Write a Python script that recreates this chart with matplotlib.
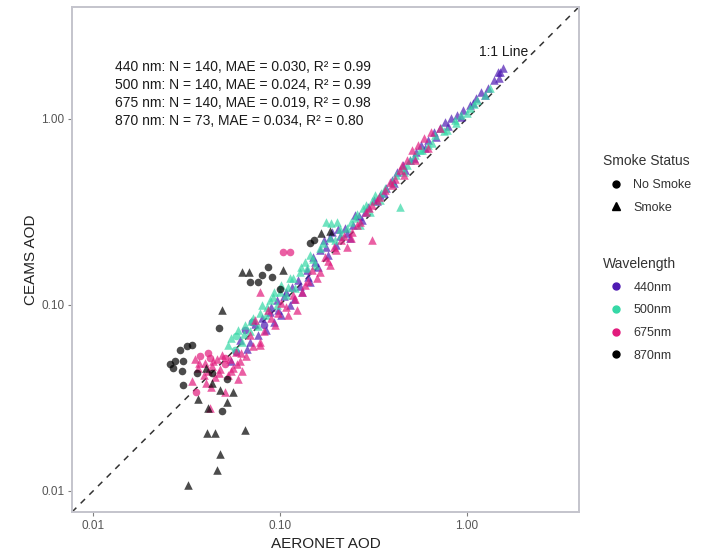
#!/usr/bin/env python3
"""
Scatter of CEAMS AOD vs AERONET AOD, by wavelength and smoke status.
"""

import matplotlib
matplotlib.use('Agg')
import matplotlib.pyplot as plt
from matplotlib.lines import Line2D

plt.rcParams['font.family'] = ['Liberation Sans', 'DejaVu Sans']

# ---- data ----
# 440 nm
x_440 = [0.058, 0.061, 0.065, 0.069, 0.071, 0.076, 0.080, 0.084, 0.088, 0.093,
         0.097, 0.102, 0.108, 0.113, 0.119, 0.125, 0.132, 0.139, 0.145, 0.154,
         0.164, 0.172, 0.181, 0.190, 0.199, 0.209, 0.223, 0.237, 0.254, 0.274,
         0.296, 0.318, 0.343, 0.370, 0.397, 0.426, 0.459, 0.496, 0.534, 0.573,
         0.620, 0.667, 0.717, 0.770, 0.830, 0.890, 0.960, 1.04, 1.12, 1.20,
         1.30, 1.40, 1.47, 1.56, 1.50, 0.055,
         0.067, 0.074, 0.082, 0.090, 0.098, 0.105, 0.116, 0.128, 0.142, 0.150,
         0.160, 0.176, 0.186, 0.205, 0.228, 0.245, 0.265, 0.285, 0.330, 0.360,
         0.410, 0.470, 0.520, 0.600, 0.690, 0.800, 0.930, 1.08, 1.25, 1.52]
y_440 = [0.056, 0.065, 0.073, 0.063, 0.081, 0.069, 0.085, 0.073, 0.092, 0.081,
         0.106, 0.088, 0.117, 0.100, 0.108, 0.136, 0.117, 0.154, 0.132, 0.170,
         0.198, 0.224, 0.186, 0.247, 0.210, 0.235, 0.260, 0.230, 0.305, 0.286,
         0.334, 0.367, 0.390, 0.425, 0.470, 0.520, 0.566, 0.602, 0.660, 0.725,
         0.771, 0.850, 0.894, 0.960, 1.01, 1.05, 1.12, 1.19, 1.30, 1.40,
         1.47, 1.62, 1.79, 1.88, 1.66, 0.050,
         0.058, 0.079, 0.078, 0.097, 0.094, 0.112, 0.125, 0.126, 0.142, 0.182,
         0.160, 0.205, 0.232, 0.255, 0.245, 0.270, 0.300, 0.315, 0.360, 0.400,
         0.450, 0.530, 0.620, 0.700, 0.800, 0.920, 1.02, 1.22, 1.35, 1.78]
smoke_440 = ("NSNSNSSSSS" "SSSSSSSSSS" "SSSSSSSSSS" "SSSSSSSSSS" "SSSSSSSSSS"
             "SSSSSS"
             "SSNSSSSSSS" "SSSSSSSSSS" "SSSSSSSSSS")

# 500 nm
x_500 = [0.053, 0.055, 0.0574, 0.060, 0.0627, 0.065, 0.069, 0.072, 0.076, 0.080,
         0.084, 0.088, 0.093, 0.097, 0.102, 0.108, 0.113, 0.120, 0.128, 0.136,
         0.145, 0.154, 0.164, 0.176, 0.189, 0.203, 0.197, 0.213, 0.228, 0.252,
         0.268, 0.290, 0.303, 0.322, 0.343, 0.364, 0.438, 0.418, 0.445, 0.48,
         0.527, 0.561, 0.62, 0.674, 0.73, 0.79, 0.863, 0.93, 1.04, 1.14,
         1.25, 1.33,
         0.058, 0.064, 0.070, 0.078, 0.085, 0.092, 0.100, 0.110, 0.118, 0.130,
         0.140, 0.150, 0.170, 0.185, 0.210, 0.240, 0.260, 0.280, 0.310, 0.350,
         0.400, 0.460, 0.500, 0.580, 0.650, 0.760, 0.880, 1.00, 1.10]
y_500 = [0.061, 0.066, 0.057, 0.073, 0.063, 0.078, 0.072, 0.085, 0.077, 0.100,
         0.088, 0.106, 0.117, 0.100, 0.128, 0.113, 0.139, 0.124, 0.150, 0.170,
         0.186, 0.164, 0.202, 0.279, 0.274, 0.279, 0.224, 0.238, 0.260, 0.293,
         0.269, 0.345, 0.316, 0.390, 0.367, 0.425, 0.336, 0.500, 0.546, 0.566,
         0.640, 0.681, 0.725, 0.820, 0.894, 0.873, 0.988, 1.05, 1.15, 1.26,
         1.35, 1.47,
         0.068, 0.070, 0.082, 0.090, 0.098, 0.110, 0.118, 0.125, 0.140, 0.160,
         0.158, 0.176, 0.215, 0.230, 0.255, 0.280, 0.310, 0.330, 0.360, 0.400,
         0.460, 0.520, 0.600, 0.680, 0.740, 0.860, 0.950, 1.08, 1.20]
smoke_500 = ("SSNSSSSSSS" "SSSSSSSSSS" "SSSSSSSSSS" "SSSSSSSSSS" "SSSSSSSSSS"
             "SS"
             "NSSSSSSSSS" "SSSSSSSSSS" "SSSSSSSSS")

# 675 nm
x_675 = [0.0351, 0.0364, 0.0373, 0.039, 0.0397, 0.0412, 0.0422, 0.0435, 0.0449, 0.046,
         0.0477, 0.049, 0.0508, 0.053, 0.054, 0.056, 0.058, 0.060, 0.0611, 0.063,
         0.066, 0.0355, 0.0422, 0.034, 0.0508, 0.078, 0.104, 0.113, 0.069, 0.0735,
         0.078, 0.086, 0.094, 0.102, 0.111, 0.117, 0.124, 0.078, 0.136, 0.148,
         0.158, 0.174, 0.185, 0.199, 0.213, 0.228, 0.243, 0.259, 0.312, 0.290,
         0.312, 0.333, 0.364, 0.388, 0.412, 0.438, 0.452, 0.48, 0.51, 0.55,
         0.59, 0.645, 0.717,
         0.037, 0.041, 0.044, 0.047, 0.051, 0.055, 0.059, 0.062, 0.040, 0.043,
         0.072, 0.082, 0.090, 0.098, 0.108, 0.121, 0.132, 0.142, 0.165, 0.180,
         0.195, 0.220, 0.240, 0.270, 0.300, 0.340, 0.400, 0.460, 0.530, 0.620]
y_675 = [0.051, 0.046, 0.053, 0.042, 0.049, 0.044, 0.052, 0.047, 0.041, 0.051,
         0.045, 0.054, 0.048, 0.042, 0.051, 0.046, 0.056, 0.040, 0.050, 0.044,
         0.053, 0.034, 0.028, 0.039, 0.034, 0.118, 0.193, 0.193, 0.069, 0.083,
         0.063, 0.094, 0.078, 0.103, 0.088, 0.113, 0.094, 0.061, 0.128, 0.154,
         0.140, 0.180, 0.164, 0.198, 0.224, 0.204, 0.247, 0.269, 0.224, 0.316,
         0.345, 0.367, 0.415, 0.456, 0.478, 0.532, 0.566, 0.602, 0.681, 0.725,
         0.79, 0.85, 0.894,
         0.049, 0.055, 0.050, 0.043, 0.052, 0.044, 0.048, 0.055, 0.038, 0.036,
         0.060, 0.072, 0.085, 0.090, 0.098, 0.108, 0.118, 0.135, 0.150, 0.172,
         0.205, 0.235, 0.230, 0.280, 0.330, 0.380, 0.440, 0.500, 0.600, 0.700]
smoke_675 = ("SSNSSSNSSS" "SSNSSSSSSS" "SNSSSSNNSS" "SSSSSSSSSS" "SSSSSSSSSS"
             "SSSSSSSSSS" "SSS"
             "SNSSNSSSSS" "SSSSSSSSSS" "SSSSSSSSSS")

# 870 nm
x_870 = [0.0318, 0.0292, 0.0275, 0.0302, 0.0269, 0.0298, 0.0258, 0.0302, 0.034, 0.0477,
         0.056, 0.0364, 0.052, 0.0412, 0.049, 0.0407, 0.0449, 0.065, 0.0477, 0.046,
         0.0322, 0.049, 0.047, 0.0627, 0.068, 0.086, 0.104, 0.080, 0.091, 0.069,
         0.076, 0.100, 0.145, 0.152, 0.167, 0.0435, 0.0435, 0.185, 0.040, 0.052,
         0.036]
y_870 = [0.060, 0.057, 0.050, 0.050, 0.046, 0.044, 0.048, 0.037, 0.061, 0.035,
         0.034, 0.031, 0.030, 0.028, 0.027, 0.0205, 0.0205, 0.0213, 0.0157, 0.0130,
         0.0107, 0.094, 0.075, 0.150, 0.150, 0.160, 0.154, 0.145, 0.141, 0.132,
         0.133, 0.122, 0.216, 0.224, 0.244, 0.043, 0.038, 0.250, 0.046, 0.040,
         0.043]
smoke_870 = "NNNNNNNNNS" "SSSSNSSSSS" "SSNSSNSNNN" "NNNNSNSSSN" "N"

wavelengths = ['440nm', '500nm', '675nm', '870nm']
colors = ['#4f1bb3', '#35d8a6', '#e21b7d', '#000000']
stats_lines = ['440 nm: N = 140, MAE = 0.030, R\u00b2 = 0.99',
               '500 nm: N = 140, MAE = 0.024, R\u00b2 = 0.99',
               '675 nm: N = 140, MAE = 0.019, R\u00b2 = 0.98',
               '870 nm: N = 73, MAE = 0.034, R\u00b2 = 0.80']

series = [(x_440, y_440, smoke_440), (x_500, y_500, smoke_500),
          (x_675, y_675, smoke_675), (x_870, y_870, smoke_870)]

fig = plt.figure(figsize=(7.04, 5.55), dpi=100)
ax = fig.add_axes([0.1023, 0.0775, 0.7200, 0.9100])

for (xs, ys, sm), col in zip(series, colors):
    xn = [x for x, s in zip(xs, sm) if s == 'N']
    yn = [y for y, s in zip(ys, sm) if s == 'N']
    xt = [x for x, s in zip(xs, sm) if s == 'S']
    yt = [y for y, s in zip(ys, sm) if s == 'S']
    ax.scatter(xn, yn, s=30, marker='o', color=col, alpha=0.7, linewidths=0)
    ax.scatter(xt, yt, s=38, marker='^', color=col, alpha=0.7, linewidths=0)

ax.set_xscale('log')
ax.set_yscale('log')
lims = (0.0077, 4.0)
ax.set_xlim(lims)
ax.set_ylim(lims)
ax.axline((0.01, 0.01), (1.0, 1.0), color='#333333', lw=1.1, ls=(0, (4, 4)), zorder=0)

ticks = [0.01, 0.1, 1.0]
ax.set_xticks(ticks)
ax.set_yticks(ticks)
ax.set_xticklabels(['0.01', '0.10', '1.00'])
ax.set_yticklabels(['0.01', '0.10', '1.00'])
ax.minorticks_off()
ax.tick_params(length=3, width=0.8, pad=2.5, color='#808080', labelcolor='#555555',
               labelsize=8.5)
for sp in ax.spines.values():
    sp.set_color('#c4c4cc')
    sp.set_linewidth(1.4)

ax.set_xlabel('AERONET AOD', fontsize=11, color='#222222', labelpad=4)
ax.set_ylabel('CEAMS AOD', fontsize=11, color='#222222', labelpad=2)

for i, line in enumerate(stats_lines):
    ax.text(0.085, 0.881 - i * 0.0356, line, transform=ax.transAxes,
            fontsize=10, color='#1a1a1a', va='center', ha='left')
ax.text(0.852, 0.911, '1:1 Line', transform=ax.transAxes, fontsize=10,
        color='#1a1a1a', va='center', ha='center')

# legends
smoke_handles = [Line2D([], [], marker='o', ls='', color='black', markersize=5),
                 Line2D([], [], marker='^', ls='', color='black', markersize=5.5)]
leg_kw = dict(loc='upper left', frameon=False, fontsize=9, title_fontsize=10,
              alignment='left', handletextpad=0.3, labelspacing=0.85,
              handlelength=2.1)
leg1 = fig.legend(smoke_handles, ['No Smoke', 'Smoke'], title='Smoke Status',
                  bbox_to_anchor=(0.841, 0.742), **leg_kw)
wave_handles = [Line2D([], [], marker='o', ls='', color=c, markersize=5) for c in colors]
leg2 = fig.legend(wave_handles, wavelengths, title='Wavelength',
                  bbox_to_anchor=(0.841, 0.557), **leg_kw)
for lg in (leg1, leg2):
    lg.get_title().set_color('#333333')
    for t in lg.get_texts():
        t.set_color('#333333')

fig.savefig('out.png', dpi=100)
print("Wrote file: out.png")
